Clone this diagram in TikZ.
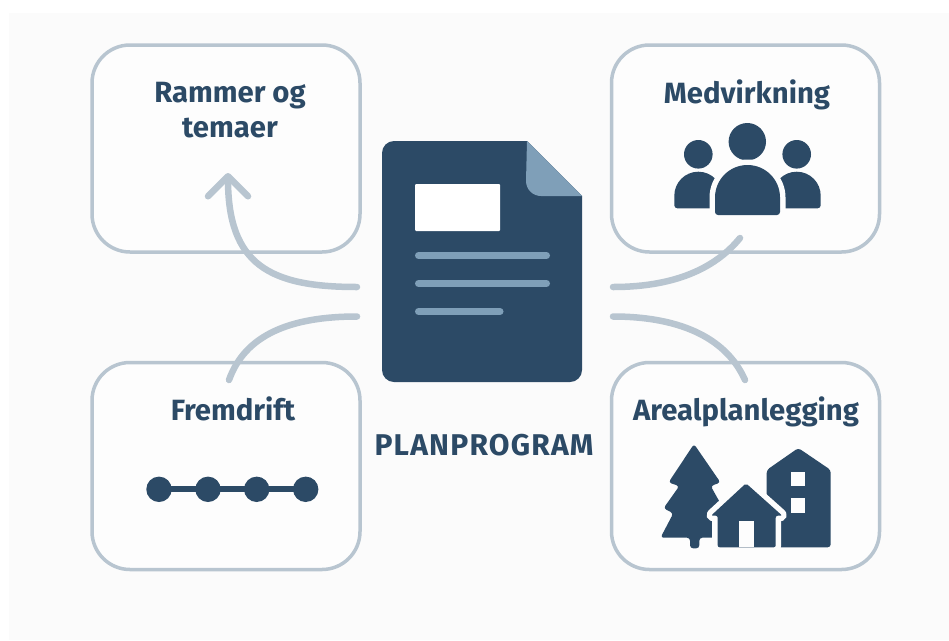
\documentclass[tikz,border=0pt]{standalone}
\usepackage{fontspec}
\usepackage{xcolor}
\setmainfont{Fira Sans}
\usetikzlibrary{arrows.meta}
\definecolor{navy}{HTML}{2C4A66}
\definecolor{steel}{HTML}{7F9FB8}
\definecolor{rim}{HTML}{B8C5D0}
\definecolor{paper}{HTML}{FBFBFB}
\definecolor{inner}{HTML}{FDFDFD}
\tikzset{
  card/.style={rectangle,rounded corners=38pt,draw=rim,line width=3.5pt,fill=inner,minimum width=268pt,minimum height=207pt},
  cardtext/.style={text=navy,anchor=base,font=\fontsize{29.3}{35}\selectfont\bfseries,align=center},
  plantitle/.style={text=navy,anchor=base,font=\fontsize{30}{35}\selectfont\bfseries\addfontfeatures{LetterSpace=4}},
  link/.style={draw=rim,line width=6.5pt,line cap=round},
  bar/.style={draw=steel,line width=7pt,line cap=round},
  cutout/.style={fill=navy,draw=inner,line width=11pt,line join=round}
}
\begin{document}
\begin{tikzpicture}[x=1pt,y=-1pt]
\useasboundingbox (0,0) rectangle (949,640);
\fill[white] (0,0) rectangle (949,640);
\fill[paper] (9,13) rectangle (949,640);
% boxes
\draw (226,148.5) node[card](rammer) {};
\draw (745.5,148.5) node[card](medvirkning) {};
\draw (226,466) node[card](fremdrift) {};
\draw (745.5,466) node[card](areal) {};
\draw (230,137.7) node[cardtext](rammertext) {Rammer og\\temaer};
\draw (747,103) node[cardtext](medvirkningtext) {Medvirkning};
\draw (233,420.7) node[cardtext](fremdrifttext) {Fremdrift};
\draw (746,420.7) node[cardtext](arealtext) {Arealplanlegging};
\draw (484,455) node[plantitle](plantext) {PLANPROGRAM};
% document
\coordinate (rammerend) at (228,173);
\coordinate (medvirkningend) at (740,238);
\coordinate (fremdriftend) at (229,380);
\coordinate (arealend) at (745,380);
\coordinate (docrammer) at (357,287);
\coordinate (docmedvirkning) at (613,287);
\coordinate (docfremdrift) at (357,316.5);
\coordinate (docareal) at (613,316.5);
\fill[navy] (382,153) arc (180:270:12) -- (527,141) -- (582,196) -- (582,370) arc (0:90:12) -- (394,382) arc (90:180:12) -- cycle;
\fill[steel] (527,141) -- (582,196) -- (541,196) arc (90:180:15) -- cycle;
\fill[white,rounded corners=1pt] (415,184) rectangle (500,231);
\draw[bar] (418.5,255.5) -- (546.5,255.5);
\draw[bar] (418.5,283.5) -- (546.5,283.5);
\draw[bar] (418.5,311.5) -- (500,311.5);
% connectors
\draw[link,-{Straight Barb[round,length=20pt,width=40pt]}] (docrammer) .. controls (270,287) and (228,265) .. (rammerend);
\draw[link] (docmedvirkning) .. controls (680,287) and (718,265) .. (medvirkningend);
\draw[link] (docfremdrift) .. controls (290,316.5) and (245,335) .. (fremdriftend);
\draw[link] (docareal) .. controls (675,316.5) and (725,335) .. (arealend);
% people
\fill[navy] (698.3,154.3) circle (14.3);
\fill[navy] (796.7,154.3) circle (14.3);
\fill[navy] (747.3,141.7) circle (18.7);
\fill[navy] (674.3,205.3) -- (674.3,195.7) arc (180:360:24) -- (722.3,208.3) -- (677.3,208.3) arc (90:180:3) -- cycle;
\fill[navy] (772.7,208.3) -- (772.7,195.7) arc (180:360:24) -- (820.7,205.3) arc (0:90:3) -- cycle;
\draw[cutout] (715,215) -- (715,197.5) arc (180:360:32.5) -- (780,215) -- cycle;
\fill[navy] (715,212) -- (715,197.5) arc (180:360:32.5) -- (780,212) arc (0:90:3) -- (718,215) arc (90:180:3) -- cycle;
% dots
\draw[navy,line width=6pt] (159,489.3) -- (305.7,489.3);
\foreach \dotx in {159,208,256.7,305.7} \fill[navy] (\dotx,489.3) circle (12.7);
% tree, building, house
\fill[navy,rounded corners=3pt] (694,444) -- (720.5,482.5) -- (710.7,486) -- (723,508) -- (714.7,513.3) -- (727,537.7) -- (699.3,537.7) -- (699.3,548.3) -- (690,548.3) -- (690,537.7) -- (660.5,537.7) -- (673.3,513.3) -- (663.5,508.3) -- (679.3,486) -- (668.5,482.5) -- cycle;
\fill[navy,rounded corners=3pt] (766.7,547.3) -- (766.7,470) -- (798.3,448) -- (830.7,470) -- (830.7,547.3) -- cycle;
\fill[inner] (791,471.7) rectangle (805.3,486);
\fill[inner] (791,498.3) rectangle (805.3,512.7);
\draw[cutout,rounded corners=2pt] (717.7,547.3) -- (717.7,515.7) -- (711,515.7) -- (746,483.3) -- (782.3,515.7) -- (775.7,515.7) -- (775.7,547.3) -- cycle;
\fill[navy,rounded corners=2pt] (717.7,547.3) -- (717.7,515.7) -- (711,515.7) -- (746,483.3) -- (782.3,515.7) -- (775.7,515.7) -- (775.7,547.3) -- cycle;
\fill[inner] (739.3,547.3) rectangle (754,520.7);
\end{tikzpicture}
\end{document}
